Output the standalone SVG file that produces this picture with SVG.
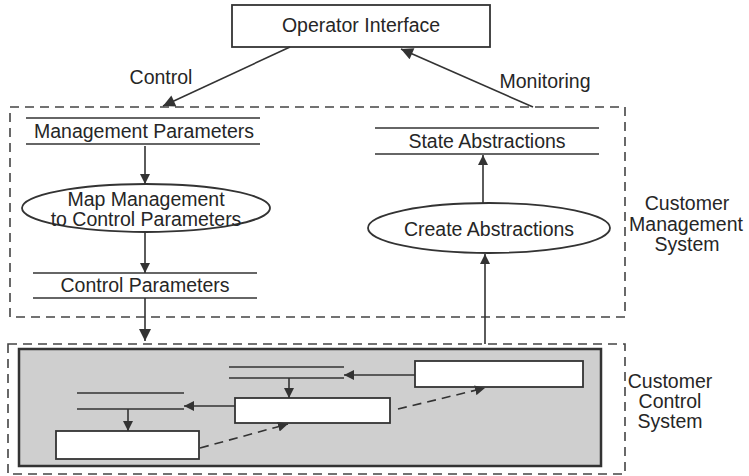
<svg xmlns="http://www.w3.org/2000/svg" width="749" height="476" viewBox="0 0 749 476">
<defs>
<style>
.t{font-family:"Liberation Sans",Arial,sans-serif;font-size:19.5px;fill:#262626;text-anchor:middle}
.ln{stroke:#333;stroke-width:1.6;fill:none}
.box{stroke:#333;stroke-width:1.8;fill:#fff}
.dash{stroke:#444;stroke-width:1.6;fill:none;stroke-dasharray:9 6}
.dl{stroke:#333;stroke-width:1.6;fill:none;stroke-dasharray:9 6}
</style>
<marker id="ah" viewBox="0 0 10 10" refX="10" refY="5" markerWidth="10" markerHeight="10" markerUnits="userSpaceOnUse" orient="auto">
<path d="M0,0 L10,5 L0,10 z" fill="#333"/>
</marker>
<marker id="ahb" viewBox="0 0 10 10" refX="10" refY="5" markerWidth="14" markerHeight="12" markerUnits="userSpaceOnUse" orient="auto">
<path d="M0,0 L10,5 L0,10 z" fill="#333"/>
</marker>
</defs>
<rect width="749" height="476" fill="#fff"/>

<g id="cms-boundary">
<rect x="10" y="107" width="615" height="210" class="dash"/>
<text class="t" x="687" y="210">Customer</text>
<text class="t" x="686" y="231">Management</text>
<text class="t" x="687" y="251">System</text>
</g>

<g id="ccs-boundary">
<rect x="8" y="344" width="617" height="130" class="dash"/>
<rect x="19" y="349" width="582" height="117" fill="#cfcfcf" stroke="#333" stroke-width="2.5"/>
<text class="t" x="670" y="388">Customer</text>
<text class="t" x="670" y="408">Control</text>
<text class="t" x="670" y="428">System</text>
</g>

<g id="operator-interface">
<rect x="232" y="5" width="258" height="42" class="box"/>
<text class="t" x="361" y="32">Operator Interface</text>
</g>

<g id="management-parameters">
<line x1="26" y1="118" x2="260" y2="118" class="ln"/>
<line x1="26" y1="144" x2="260" y2="144" class="ln"/>
<text class="t" x="144" y="138">Management Parameters</text>
</g>

<g id="map-management">
<ellipse cx="146" cy="208" rx="124" ry="24" class="box"/>
<text class="t" x="146" y="206">Map Management</text>
<text class="t" x="146" y="226">to Control Parameters</text>
</g>

<g id="control-parameters">
<line x1="33" y1="273" x2="257" y2="273" class="ln"/>
<line x1="33" y1="298" x2="257" y2="298" class="ln"/>
<text class="t" x="145" y="292">Control Parameters</text>
</g>

<g id="state-abstractions">
<line x1="375" y1="128" x2="599" y2="128" class="ln"/>
<line x1="375" y1="154" x2="599" y2="154" class="ln"/>
<text class="t" x="487" y="148">State Abstractions</text>
</g>

<g id="create-abstractions">
<ellipse cx="489" cy="228" rx="121" ry="25" class="box"/>
<text class="t" x="489" y="236">Create Abstractions</text>
</g>

<g id="control-box-right">
<rect x="415" y="361" width="168" height="26" class="box"/>
</g>
<g id="control-box-middle">
<rect x="235" y="398" width="155" height="25" class="box"/>
</g>
<g id="control-box-left">
<rect x="56" y="431" width="143" height="28" class="box"/>
</g>
<g id="store-middle">
<line x1="229" y1="367" x2="344" y2="367" class="ln"/>
<line x1="229" y1="378" x2="344" y2="378" class="ln"/>
</g>
<g id="store-left">
<line x1="77" y1="393" x2="184" y2="393" class="ln"/>
<line x1="77" y1="409" x2="184" y2="409" class="ln"/>
</g>

<g id="connectors">
<line x1="290" y1="47" x2="163" y2="106" class="ln" marker-end="url(#ahb)"/>
<text class="t" x="161" y="84">Control</text>
<line x1="533" y1="107" x2="401" y2="49" class="ln" marker-end="url(#ahb)"/>
<text class="t" x="545" y="88">Monitoring</text>
<line x1="145" y1="146" x2="145" y2="184" class="ln" marker-end="url(#ah)"/>
<line x1="145" y1="232" x2="145" y2="273" class="ln" marker-end="url(#ah)"/>
<line x1="145" y1="298" x2="145" y2="341" class="ln" marker-end="url(#ahb)"/>
<line x1="483" y1="203" x2="483" y2="155" class="ln" marker-end="url(#ah)"/>
<line x1="485" y1="344" x2="485" y2="254" class="ln" marker-end="url(#ah)"/>
<line x1="415" y1="375" x2="344" y2="375" class="ln" marker-end="url(#ah)"/>
<line x1="289" y1="378" x2="289" y2="398" class="ln" marker-end="url(#ah)"/>
<line x1="235" y1="406" x2="184" y2="406" class="ln" marker-end="url(#ah)"/>
<line x1="128" y1="409" x2="128" y2="431" class="ln" marker-end="url(#ah)"/>
<line x1="200" y1="448" x2="288" y2="424" class="dl" marker-end="url(#ah)"/>
<line x1="398" y1="409" x2="485" y2="388" class="dl" marker-end="url(#ah)"/>
</g>
</svg>
